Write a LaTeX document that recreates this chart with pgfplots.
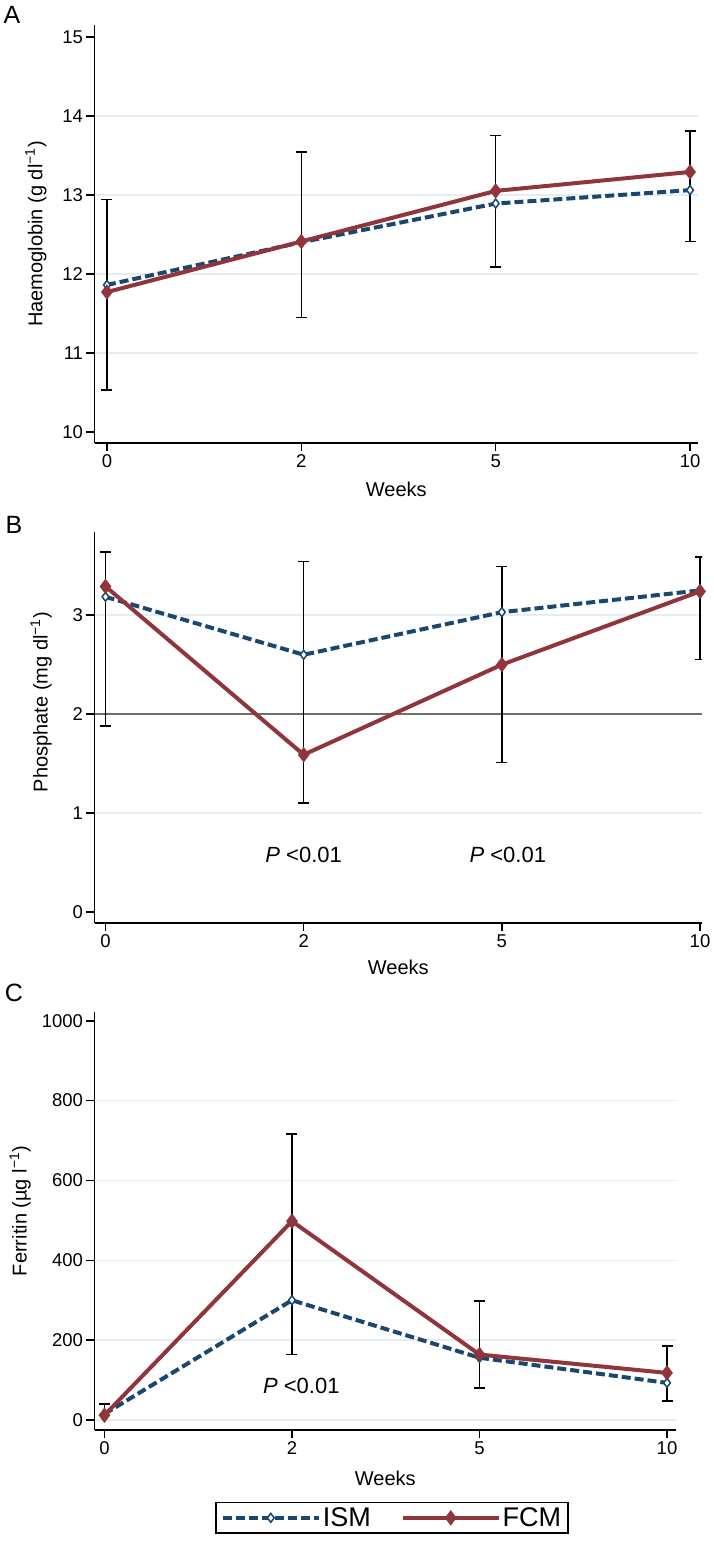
\documentclass[border=0pt]{standalone}
\usepackage{pgfplots}
\pgfplotsset{compat=1.18}
\usepackage{fontspec}
\setmainfont{Liberation Sans}
\definecolor{ismblue}{RGB}{26,71,111}
\definecolor{fcmred}{RGB}{144,53,59}
\definecolor{gridc}{RGB}{228,238,240}
\definecolor{refc}{RGB}{110,110,110}
\begin{document}
\begin{tikzpicture}
\path (0,0) rectangle (709bp,1553bp);
\pgfplotsset{
  stata/.style={
    scale only axis,
    anchor=south west,
    axis lines=left,
    axis line style={-, line width=1.6bp, black},
    tick align=outside,
    major tick length=8bp,
    tick style={line width=1.6bp, black},
    xtick={0,1,2,3},
    xticklabels={0,2,5,10},
    ymajorgrids,
    grid style={draw=gridc, line width=1.5bp},
    extra y tick style={grid=none},
    tick label style={font=\fontsize{18.5bp}{21bp}\selectfont},
    label style={font=\fontsize{20bp}{23bp}\selectfont},
    xlabel={Weeks},
    /pgf/number format/assume math mode=true,
    /pgf/number format/1000 sep={},
  },
  ism/.style={ismblue, line width=4bp, dash pattern=on 9bp off 4bp, mark=diamond*, mark options={solid, fill=white, draw=ismblue, line width=1.5bp}, mark size=4.5bp},
  fcm/.style={fcmred, line width=4bp, mark=diamond*, mark options={solid, fill=fcmred, draw=fcmred}, mark size=4.5bp},
  ebar/.style={draw=none, mark=none, forget plot, error bars/.cd, y dir=both, y explicit, error bar style={draw=black, line width=1.6bp, solid}, error mark options={draw=black, rotate=90, mark size=5.5bp, line width=1.6bp}},
}
% Panel A
\begin{axis}[stata,
  at={(94.5bp,1110bp)}, width=603.5bp, height=418bp,
  xmin=-0.064, xmax=3.041, ymin=9.86, ymax=15.15,
  ytick={11,12,13,14}, extra y ticks={10,15},
  ylabel={Haemoglobin (g dl\textsuperscript{−1})},
  ylabel style={at={(axis description cs:-0.097,0.5)}, anchor=center},
  xlabel style={at={(axis description cs:0.5,-0.112)}, anchor=center},
]
\addplot[ebar] coordinates {(0,11.735) +- (0,1.205) (1,12.495) +- (0,1.045) (2,12.92) +- (0,0.83) (3,13.11) +- (0,0.70)};
\addplot[ism] coordinates {(0,11.86) (1,12.40) (2,12.89) (3,13.06)};
\addplot[fcm] coordinates {(0,11.77) (1,12.41) (2,13.05) (3,13.29)};
\end{axis}
% Panel B
\begin{axis}[stata,
  at={(94.5bp,630bp)}, width=607.5bp, height=391bp,
  xmin=-0.0555, xmax=3.01, ymin=-0.11, ymax=3.84,
  ytick={1,3}, extra y ticks={0,2},
  ylabel={Phosphate (mg dl\textsuperscript{−1})},
  ylabel style={at={(axis description cs:-0.088,0.565)}, anchor=center},
  xlabel style={at={(axis description cs:0.5,-0.1125)}, anchor=center},
]
\addplot[refc, line width=1.5bp, forget plot] coordinates {(-0.0555,2) (3.01,2)};
\addplot[ebar] coordinates {(0,2.76) +- (0,0.88) (1,2.32) +- (0,1.22) (2,2.50) +- (0,0.99) (3,3.07) +- (0,0.52)};
\addplot[ism] coordinates {(0,3.185) (1,2.60) (2,3.03) (3,3.25)};
\addplot[fcm] coordinates {(0,3.29) (1,1.59) (2,2.50) (3,3.24)};
\node[font=\fontsize{22bp}{24bp}\selectfont] at (axis cs:1.0,0.576) {\textit{P} <0.01};
\node[font=\fontsize{22bp}{24bp}\selectfont] at (axis cs:2.03,0.576) {\textit{P} <0.01};
\end{axis}
% Panel C
\begin{axis}[stata,
  at={(94.5bp,123bp)}, width=581.5bp, height=418bp,
  xmin=-0.053, xmax=3.048, ymin=-25, ymax=1022,
  ytick={0,200,400,600,800}, extra y ticks={1000},
  ylabel={Ferritin (µg l\textsuperscript{−1})},
  ylabel style={at={(axis description cs:-0.128,0.524)}, anchor=center},
  xlabel style={at={(axis description cs:0.5,-0.115)}, anchor=center},
  legend style={at={(axis description cs:0.5116,-0.172)}, anchor=north, legend columns=2, draw=black, line width=1.6bp,
    font=\fontsize{27bp}{29bp}\selectfont, inner xsep=5bp, inner ysep=3bp,
    /tikz/every even column/.append style={column sep=28bp}},
  legend image code/.code={\draw[mark repeat=2,mark phase=2,#1] plot coordinates {(0bp,0bp) (48bp,0bp) (96bp,0bp)};},
]
\addplot[ebar] coordinates {(0,26) +- (0,14) (1,440) +- (0,276) (2,189) +- (0,109) (3,116) +- (0,69)};
\addplot[ism] coordinates {(0,15) (1,300) (2,156) (3,93)};
\addplot[fcm] coordinates {(0,12) (1,498) (2,164) (3,118)};
\node[font=\fontsize{22bp}{24bp}\selectfont] at (axis cs:1.05,85) {\textit{P} <0.01};
\legend{ISM, FCM}
\end{axis}
\node[font=\fontsize{25bp}{27bp}\selectfont] at (12bp,1538bp) {A};
\node[font=\fontsize{25bp}{27bp}\selectfont] at (14bp,1028bp) {B};
\node[font=\fontsize{25bp}{27bp}\selectfont] at (14bp,560bp) {C};
\end{tikzpicture}
\end{document}
